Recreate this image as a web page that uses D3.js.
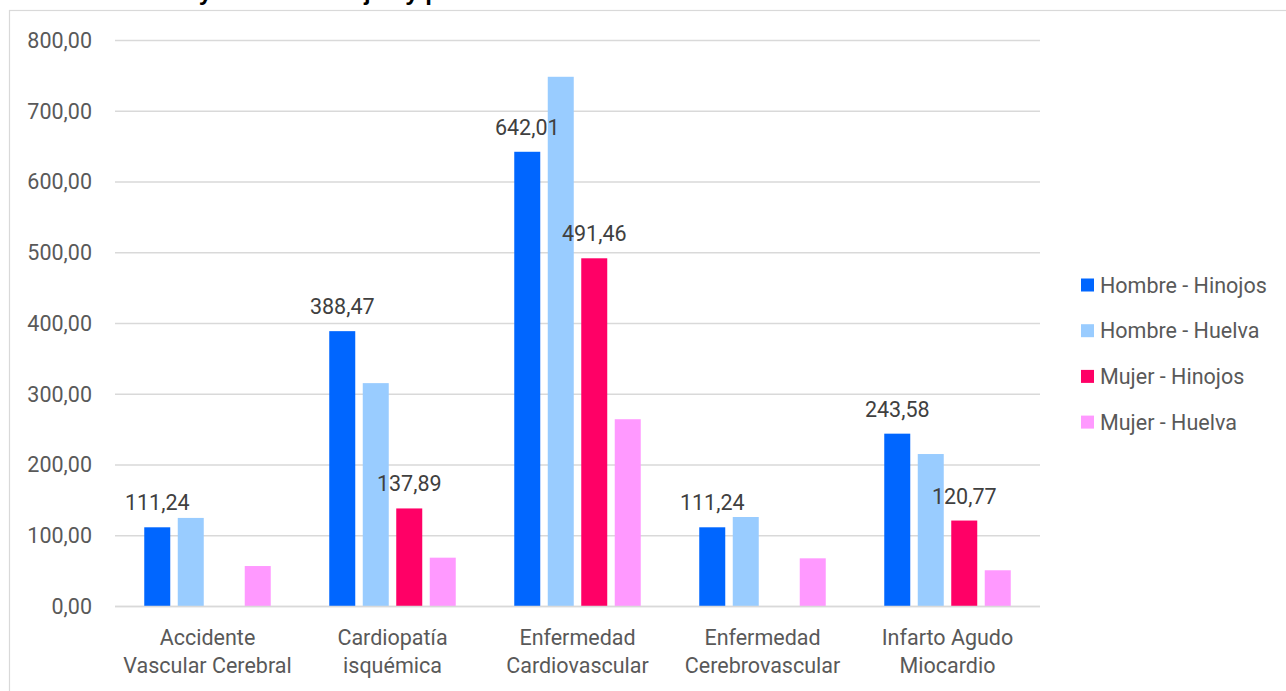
<!DOCTYPE html>
<html>
<head>
<meta charset="utf-8">
<script src="https://cdn.jsdelivr.net/npm/d3@7"></script>
<style>
  html, body { margin: 0; padding: 0; background: #fff; }
  svg { display: block; }
</style>
</head>
<body>
<svg id="chart" width="1286" height="691"></svg>
<script>
// ---- data ----
const categories = [
  ["Accidente", "Vascular Cerebral"],
  ["Cardiopatía", "isquémica"],
  ["Enfermedad", "Cardiovascular"],
  ["Enfermedad", "Cerebrovascular"],
  ["Infarto Agudo", "Miocardio"]
];
const seriesNames = ["Hombre - Hinojos", "Hombre - Huelva", "Mujer - Hinojos", "Mujer - Huelva"];
const hombreHinojos = [111.24, 388.47, 642.01, 111.24, 243.58];
const hombreHuelva  = [124.5, 315.0, 748.0, 125.8, 214.8];
const mujerHinojos  = [null, 137.89, 491.46, null, 120.77];
const mujerHuelva   = [56.5, 68.3, 264.0, 67.4, 50.5];
const yTicks = [0, 100, 200, 300, 400, 500, 600, 700, 800];
const labeledSeries = [0, 2];
const titleText = "Tasa de mortalidad bruta y total en Hinojos y provincia";

const seriesValues = [hombreHinojos, hombreHuelva, mujerHinojos, mujerHuelva];
const colors = ["#0066ff", "#99ccff", "#ff0066", "#ff99ff"];

const loc = d3.formatLocale({decimal: ",", thousands: ".", grouping: [3], currency: ["", "€"]});
const fmt = loc.format(".2f");

const svg = d3.select("#chart");
const font = "Roboto, 'Open Sans', sans-serif";
const textColor = "#595959";
const gridColor = "#d9d9d9";

// frame
svg.append("rect")
  .attr("x", 9.5).attr("y", 10.5)
  .attr("width", 1300).attr("height", 700)
  .attr("fill", "none").attr("stroke", gridColor).attr("stroke-width", 1.2);

// cut-off title (only descenders visible, as in the reference)
const title = svg.append("text")
  .attr("x", 0).attr("y", -0.5)
  .attr("font-family", "'Liberation Sans', Arial, sans-serif")
  .attr("font-weight", "bold")
  .attr("font-size", 24)
  .attr("fill", "#000")
  .text(titleText);
{
  const idx = titleText.indexOf("Hinojos") + 4;
  const pos = title.node().getStartPositionOfChar(idx).x;
  title.attr("x", 364 - pos);
}

// scales
const plot = {left: 115, right: 1040, top: 40, bottom: 606};
const x0 = d3.scaleBand()
  .domain(d3.range(categories.length))
  .range([plot.left, plot.right])
  .paddingInner(0.2757).paddingOuter(0.2757 / 2);
const x1 = d3.scaleBand()
  .domain(d3.range(seriesNames.length))
  .range([0, x0.bandwidth()])
  .paddingInner(0.224).paddingOuter(0.112);
const y = d3.scaleLinear().domain([0, 800]).range([plot.bottom, plot.top]);

// gridlines
svg.append("g")
  .selectAll("line")
  .data(yTicks)
  .join("line")
  .attr("x1", plot.left).attr("x2", plot.right)
  .attr("y1", d => y(d) + 0.5).attr("y2", d => y(d) + 0.5)
  .attr("stroke", gridColor).attr("stroke-width", 1.5);

// y axis labels
const yAxis = d3.axisLeft(y).tickValues(yTicks).tickFormat(fmt).tickSize(0).tickPadding(0);
const yg = svg.append("g").attr("transform", `translate(92,0)`).call(yAxis);
yg.select(".domain").remove();
yg.selectAll("text")
  .attr("font-family", font).attr("font-size", 21.5).attr("fill", textColor)
  .attr("dy", "0.34em").attr("x", 0);

// bars
const groups = svg.append("g").selectAll("g")
  .data(categories.map((c, i) => i))
  .join("g")
  .attr("transform", i => `translate(${x0(i)},0)`);

groups.selectAll("rect")
  .data(i => seriesValues.map((s, k) => ({k, v: s[i]})).filter(d => d.v != null))
  .join("rect")
  .attr("x", d => x1(d.k))
  .attr("width", x1.bandwidth())
  .attr("y", d => y(d.v))
  .attr("height", d => y(0) - y(d.v))
  .attr("fill", d => colors[d.k]);

// value labels
groups.selectAll("text.val")
  .data(i => seriesValues.map((s, k) => ({k, v: s[i]})).filter(d => d.v != null && labeledSeries.includes(d.k)))
  .join("text")
  .attr("class", "val")
  .attr("x", d => x1(d.k) + x1.bandwidth() / 2)
  .attr("y", d => y(d.v) - 17)
  .attr("text-anchor", "middle")
  .attr("font-family", font).attr("font-size", 21.5).attr("fill", "#404040")
  .text(d => fmt(d.v));

// baseline
svg.append("line")
  .attr("x1", plot.left).attr("x2", plot.right)
  .attr("y1", y(0) + 0.5).attr("y2", y(0) + 0.5)
  .attr("stroke", gridColor).attr("stroke-width", 1.5);

// category labels
const xAxis = d3.axisBottom(x0).tickSize(0).tickFormat(() => "");
const xg = svg.append("g").attr("transform", `translate(0,${plot.bottom})`).call(xAxis);
xg.select(".domain").remove();
xg.selectAll(".tick text").each(function(i) {
  const t = d3.select(this);
  t.attr("font-family", font).attr("font-size", 21.5).attr("fill", textColor)
   .attr("y", 0).attr("dy", 0);
  t.selectAll("tspan").data(categories[i]).join("tspan")
    .attr("x", 0).attr("y", (d, j) => 39 + j * 28)
    .text(d => d);
});

// legend
const legend = svg.append("g").attr("transform", "translate(1081,285)");
const li = legend.selectAll("g").data(seriesNames).join("g")
  .attr("transform", (d, i) => `translate(0,${i * 45.7})`);
li.append("rect").attr("x", 0).attr("y", -6.5).attr("width", 13).attr("height", 13)
  .attr("fill", (d, i) => colors[i]);
li.append("text").attr("x", 19).attr("y", 0).attr("dy", "0.35em")
  .attr("font-family", font).attr("font-size", 21.5).attr("fill", textColor)
  .text(d => d);
</script>
</body>
</html>
